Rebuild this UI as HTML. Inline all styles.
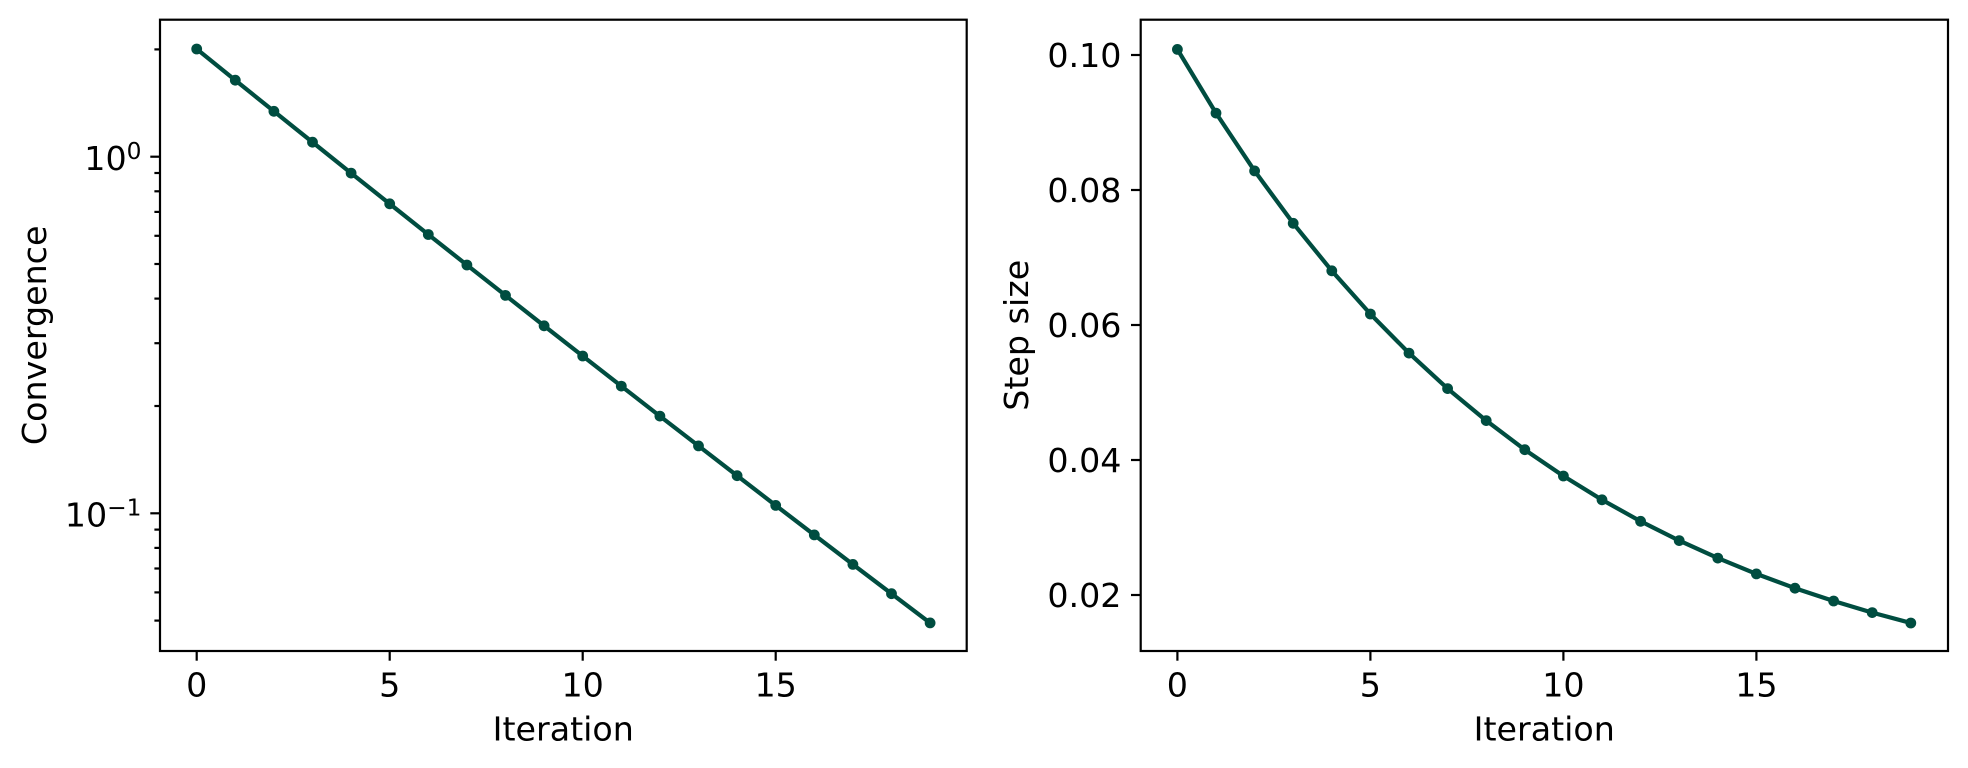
<!DOCTYPE html>
<html>
<head>
<meta charset="utf-8">
<style>
  html, body { margin: 0; padding: 0; background: #ffffff; }
  svg { display: block; }
  text { font-family: "DejaVu Sans", "Liberation Sans", sans-serif; fill: #000; }
</style>
</head>
<body>
<svg width="1968" height="768" viewBox="0 0 1968 768" xmlns="http://www.w3.org/2000/svg">
  <rect x="0" y="0" width="1968" height="768" fill="#ffffff"/>

  <!-- ================= LEFT PLOT ================= -->
  <polyline fill="none" stroke="#004d40" stroke-width="4.2" stroke-linejoin="round" stroke-linecap="butt"
    points="196.7,49.0 235.3,80.2 273.9,111.3 312.5,142.2 351.1,173.1 389.7,203.8 428.3,234.5 466.9,265.0 505.5,295.4 544.1,325.8 582.7,356.0 621.3,386.1 659.9,416.1 698.5,445.9 737.1,475.7 775.7,505.4 814.3,534.9 852.9,564.4 891.5,593.7 930.1,622.9"/>
  <g fill="#004d40">
    <circle cx="196.7" cy="49.0" r="5.4"/>
    <circle cx="235.3" cy="80.2" r="5.4"/>
    <circle cx="273.9" cy="111.3" r="5.4"/>
    <circle cx="312.5" cy="142.2" r="5.4"/>
    <circle cx="351.1" cy="173.1" r="5.4"/>
    <circle cx="389.7" cy="203.8" r="5.4"/>
    <circle cx="428.3" cy="234.5" r="5.4"/>
    <circle cx="466.9" cy="265.0" r="5.4"/>
    <circle cx="505.5" cy="295.4" r="5.4"/>
    <circle cx="544.1" cy="325.8" r="5.4"/>
    <circle cx="582.7" cy="356.0" r="5.4"/>
    <circle cx="621.3" cy="386.1" r="5.4"/>
    <circle cx="659.9" cy="416.1" r="5.4"/>
    <circle cx="698.5" cy="445.9" r="5.4"/>
    <circle cx="737.1" cy="475.7" r="5.4"/>
    <circle cx="775.7" cy="505.4" r="5.4"/>
    <circle cx="814.3" cy="534.9" r="5.4"/>
    <circle cx="852.9" cy="564.4" r="5.4"/>
    <circle cx="891.5" cy="593.7" r="5.4"/>
    <circle cx="930.1" cy="622.9" r="5.4"/>
  </g>

  <rect x="160" y="19.7" width="806.7" height="631.3" fill="none" stroke="#000" stroke-width="2.2"/>

  <g stroke="#000" stroke-width="2.2">
    <line x1="196.7" y1="651" x2="196.7" y2="660.7"/>
    <line x1="389.7" y1="651" x2="389.7" y2="660.7"/>
    <line x1="582.7" y1="651" x2="582.7" y2="660.7"/>
    <line x1="775.7" y1="651" x2="775.7" y2="660.7"/>
    <line x1="150.3" y1="156.7" x2="160" y2="156.7"/>
    <line x1="150.3" y1="513.3" x2="160" y2="513.3"/>
    <line x1="154.4" y1="49.4" x2="160" y2="49.4"/>
    <line x1="154.4" y1="173.0" x2="160" y2="173.0"/>
    <line x1="154.4" y1="191.3" x2="160" y2="191.3"/>
    <line x1="154.4" y1="211.9" x2="160" y2="211.9"/>
    <line x1="154.4" y1="235.8" x2="160" y2="235.8"/>
    <line x1="154.4" y1="264.0" x2="160" y2="264.0"/>
    <line x1="154.4" y1="298.6" x2="160" y2="298.6"/>
    <line x1="154.4" y1="343.2" x2="160" y2="343.2"/>
    <line x1="154.4" y1="406.0" x2="160" y2="406.0"/>
    <line x1="154.4" y1="529.6" x2="160" y2="529.6"/>
    <line x1="154.4" y1="547.9" x2="160" y2="547.9"/>
    <line x1="154.4" y1="568.5" x2="160" y2="568.5"/>
    <line x1="154.4" y1="592.4" x2="160" y2="592.4"/>
    <line x1="154.4" y1="620.6" x2="160" y2="620.6"/>
  </g>

  <g font-size="33.3" text-anchor="middle">
    <text x="196.7" y="696.5">0</text>
    <text x="389.7" y="696.5">5</text>
    <text x="582.7" y="696.5">10</text>
    <text x="775.7" y="696.5">15</text>
  </g>
  <text x="141.5" y="170" font-size="33.3" text-anchor="end">10<tspan font-size="23.3" dy="-11">0</tspan></text>
  <text x="141.5" y="526.3" font-size="33.3" text-anchor="end">10<tspan font-size="23.3" dy="-11">−1</tspan></text>

  <text x="563.3" y="740.5" font-size="33.3" text-anchor="middle">Iteration</text>
  <text x="46" y="335.3" font-size="33.3" text-anchor="middle" transform="rotate(-90 46 335.3)">Convergence</text>

  <!-- ================= RIGHT PLOT ================= -->
  <polyline fill="none" stroke="#004d40" stroke-width="4.2" stroke-linejoin="round" stroke-linecap="butt"
    points="1177.4,49.4 1216.0,113.1 1254.6,170.9 1293.2,223.3 1331.8,270.8 1370.4,314.0 1409.0,353.1 1447.6,388.6 1486.2,420.6 1524.8,449.7 1563.4,476.0 1602.0,499.8 1640.6,521.3 1679.2,540.6 1717.8,558.1 1756.4,573.9 1795.0,588.2 1833.6,601.0 1872.2,612.6 1910.8,623.0"/>
  <g fill="#004d40">
    <circle cx="1177.4" cy="49.4" r="5.4"/>
    <circle cx="1216.0" cy="113.1" r="5.4"/>
    <circle cx="1254.6" cy="170.9" r="5.4"/>
    <circle cx="1293.2" cy="223.3" r="5.4"/>
    <circle cx="1331.8" cy="270.8" r="5.4"/>
    <circle cx="1370.4" cy="314.0" r="5.4"/>
    <circle cx="1409.0" cy="353.1" r="5.4"/>
    <circle cx="1447.6" cy="388.6" r="5.4"/>
    <circle cx="1486.2" cy="420.6" r="5.4"/>
    <circle cx="1524.8" cy="449.7" r="5.4"/>
    <circle cx="1563.4" cy="476.0" r="5.4"/>
    <circle cx="1602.0" cy="499.8" r="5.4"/>
    <circle cx="1640.6" cy="521.3" r="5.4"/>
    <circle cx="1679.2" cy="540.6" r="5.4"/>
    <circle cx="1717.8" cy="558.1" r="5.4"/>
    <circle cx="1756.4" cy="573.9" r="5.4"/>
    <circle cx="1795.0" cy="588.2" r="5.4"/>
    <circle cx="1833.6" cy="601.0" r="5.4"/>
    <circle cx="1872.2" cy="612.6" r="5.4"/>
    <circle cx="1910.8" cy="623.0" r="5.4"/>
  </g>

  <rect x="1140.7" y="19.7" width="807.3" height="631.3" fill="none" stroke="#000" stroke-width="2.2"/>

  <g stroke="#000" stroke-width="2.2">
    <line x1="1177.4" y1="651" x2="1177.4" y2="660.7"/>
    <line x1="1370.4" y1="651" x2="1370.4" y2="660.7"/>
    <line x1="1563.4" y1="651" x2="1563.4" y2="660.7"/>
    <line x1="1756.4" y1="651" x2="1756.4" y2="660.7"/>
    <line x1="1131" y1="55" x2="1140.7" y2="55"/>
    <line x1="1131" y1="190" x2="1140.7" y2="190"/>
    <line x1="1131" y1="325" x2="1140.7" y2="325"/>
    <line x1="1131" y1="460" x2="1140.7" y2="460"/>
    <line x1="1131" y1="595" x2="1140.7" y2="595"/>
  </g>

  <g font-size="33.3" text-anchor="middle">
    <text x="1177.4" y="696.5">0</text>
    <text x="1370.4" y="696.5">5</text>
    <text x="1563.4" y="696.5">10</text>
    <text x="1756.4" y="696.5">15</text>
  </g>
  <g font-size="33.3" text-anchor="end">
    <text x="1121.5" y="67">0.10</text>
    <text x="1121.5" y="202">0.08</text>
    <text x="1121.5" y="337">0.06</text>
    <text x="1121.5" y="472">0.04</text>
    <text x="1121.5" y="607">0.02</text>
  </g>

  <text x="1544.3" y="740.5" font-size="33.3" text-anchor="middle">Iteration</text>
  <text x="1028" y="335.3" font-size="33.3" text-anchor="middle" transform="rotate(-90 1028 335.3)">Step size</text>
</svg>
</body>
</html>
